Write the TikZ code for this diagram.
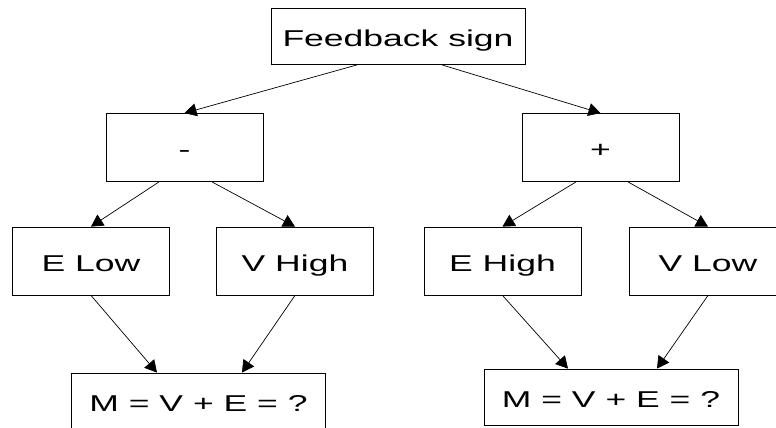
\documentclass[tikz,border=0pt]{standalone}
\usepackage{fontspec}
\setmainfont{Liberation Sans}
\usepackage{graphicx}
\usetikzlibrary{arrows.meta,calc,positioning}

\newcommand{\wtext}[1]{\scalebox{1.55}[1]{#1}}

\begin{document}
\begin{tikzpicture}[x=1bp,y=-1bp,
  box/.style={draw,line width=0.8bp,inner sep=0pt,minimum width=157bp,
    minimum height=68bp,text height=20bp,text depth=0pt,
    font=\fontsize{23}{27}\selectfont},
  widebox/.style={box,minimum width=254bp,minimum height=56bp},
  edge/.style={line width=0.7bp,-{Triangle[length=12bp,width=13bp]}}]
  \useasboundingbox (0,0) rectangle (776,427);

  % Root
  \node[widebox] (sign) at (398,36.5) {\wtext{Feedback sign}};

  % Sign of the feedback
  \node[box] (minus) at (184.5,147.5) {\wtext{-}};
  \node[box] (plus)  at (600.5,147.5) {\wtext{+}};

  % Leaves
  \node[box] (elow)  at (91,261)    {\wtext{E Low}};
  \node[box] (vhigh) at (295,261)   {\wtext{V High}};
  \node[box] (ehigh) at (502.5,261) {\wtext{E High}};
  \node[box] (vlow)  at (708,261)   {\wtext{V Low}};

  % Outcome M
  \node[widebox] (mleft)  at (198.5,401) {\wtext{M = V + E = ?}};
  \node[widebox] (mright) at (611,397)   {\wtext{M = V + E = ?}};

  \draw[edge] ([xshift=-41bp]sign.south) -- (minus.north);
  \draw[edge] ([xshift=44bp]sign.south) -- (plus.north);

  \draw[edge] ([xshift=-25.5bp]minus.south) -- (elow.north);
  \draw[edge] ([xshift=27.5bp]minus.south) -- (vhigh.north);
  \draw[edge] ([xshift=-24.5bp]plus.south) -- (ehigh.north);
  \draw[edge] ([xshift=27.5bp]plus.south) -- (vlow.north);

  \draw[edge] (elow.south) -- ([xshift=-41.5bp]mleft.north);
  \draw[edge] (vhigh.south) -- ([xshift=43.5bp]mleft.north);
  \draw[edge] (ehigh.south) -- ([xshift=-43bp]mright.north);
  \draw[edge] (vlow.south) -- ([xshift=46bp]mright.north);
\end{tikzpicture}
\end{document}
